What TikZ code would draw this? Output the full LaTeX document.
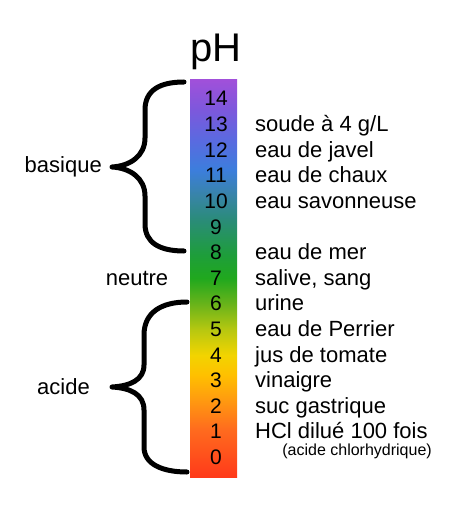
\documentclass[tikz,border=0pt]{standalone}
\usepackage{fontspec}
\setmainfont{Liberation Sans}

\definecolor{phzero}{HTML}{FF3A1A}
\definecolor{phone}{HTML}{FF6A1E}
\definecolor{phtwo}{HTML}{FF9A10}
\definecolor{phthree}{HTML}{FFC000}
\definecolor{phfour}{HTML}{F2D400}
\definecolor{phfive}{HTML}{B8C810}
\definecolor{phsix}{HTML}{6CB41A}
\definecolor{phseven}{HTML}{20A81E}
\definecolor{pheight}{HTML}{1E9E3A}
\definecolor{phnine}{HTML}{2A8C78}
\definecolor{phten}{HTML}{3884A8}
\definecolor{pheleven}{HTML}{3C7EDC}
\definecolor{phtwelve}{HTML}{5A6AE0}
\definecolor{phthirteen}{HTML}{7C58DC}
\definecolor{phfourteen}{HTML}{A050DA}

% the bar spans 25bp..75bp of the shading
\pgfdeclareverticalshading{phscale}{100bp}{%
  color(0bp)=(phzero); color(25bp)=(phzero); color(30.9bp)=(phone); color(34.7bp)=(phtwo);
  color(37.85bp)=(phthree); color(40.35bp)=(phfour); color(43.5bp)=(phfive);
  color(46.65bp)=(phsix); color(50.05bp)=(phseven); color(52.95bp)=(pheight);
  color(57.35bp)=(phnine); color(60.5bp)=(phten); color(63.65bp)=(pheleven);
  color(67.45bp)=(phtwelve); color(71.2bp)=(phthirteen); color(75bp)=(phfourteen);
  color(100bp)=(phfourteen)}

\tikzset{
  num/.style={anchor=base, inner sep=0pt, font=\fontsize{21}{23}\selectfont},
  lbl/.style={anchor=base west, inner sep=0pt, font=\fontsize{22}{24}\selectfont},
  side/.style={anchor=base east, inner sep=0pt, font=\fontsize{22}{24}\selectfont},
  brace/.style={line width=5pt, line cap=round, line join=round}
}

\begin{document}
\begin{tikzpicture}[x=1pt, y=-1pt]
	\useasboundingbox (0,0) rectangle (474,521);
	\shade[shading=phscale] (190,80) rectangle (237,477);
	\node[anchor=base, inner sep=0pt, font=\fontsize{40}{44}\selectfont] (titre) at (216,62) {pH};
	\foreach \v in {0,...,14} \node[num] (ph\v) at (216,{106+(14-\v)*25.6}) {\v};
	\node[lbl] (soude) at (255,{106+1*25.6}) {soude à 4 g/L};
	\node[lbl] (javel) at (255,{106+2*25.6}) {eau de javel};
	\node[lbl] (chaux) at (255,{106+3*25.6}) {eau de chaux};
	\node[lbl] (savon) at (255,{106+4*25.6}) {eau savonneuse};
	\node[lbl] (mer) at (255,{106+6*25.6}) {eau de mer};
	\node[lbl] (salive) at (255,{106+7*25.6}) {salive, sang};
	\node[lbl] (urine) at (255,{106+8*25.6}) {urine};
	\node[lbl] (perrier) at (255,{106+9*25.6}) {eau de Perrier};
	\node[lbl] (tomate) at (255,{106+10*25.6}) {jus de tomate};
	\node[lbl] (vinaigre) at (255,{106+11*25.6}) {vinaigre};
	\node[lbl] (suc) at (255,{106+12*25.6}) {suc gastrique};
	\node[lbl] (hcl) at (255,{106+13*25.6}) {HCl dilué 100 fois};
	\node[anchor=base east, inner sep=0pt, font=\fontsize{16}{18}\selectfont] (chlor) at (432,455) {(acide chlorhydrique)};
	% cotes gauche
	\node[side] (basique) at (102,173) {basique};
	\node[anchor=base, inner sep=0pt, font=\fontsize{22}{24}\selectfont] (neutre) at (137,285) {neutre};
	\node[side] (acide) at (90,394) {acide};
	\draw[brace] (184,82) .. controls (160,82) and (145,90) .. (145,110) -- (145,138)
		.. controls (145,156) and (130,166) .. (112,167)
		.. controls (130,168) and (145,178) .. (145,196) -- (145,224)
		.. controls (145,243) and (160,251) .. (184,251);
	\draw[brace] (187,302) .. controls (162,302) and (144,312) .. (144,335) -- (144,365)
		.. controls (144,380) and (130,386) .. (112,387)
		.. controls (130,388) and (144,394) .. (144,410) -- (144,447)
		.. controls (144,464) and (162,472) .. (187,472);
\end{tikzpicture}
\end{document}
